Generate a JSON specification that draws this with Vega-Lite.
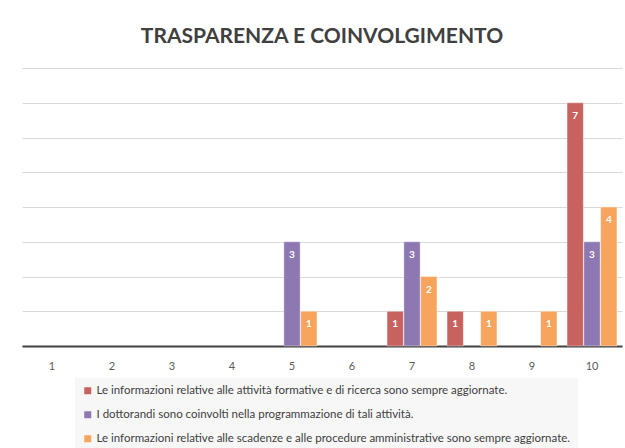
{
  "$schema": "https://vega.github.io/schema/vega-lite/v6.json",
  "width": 600,
  "height": 278,
  "padding": {"left": 22, "top": 26, "right": 3, "bottom": 0},
  "background": "white",
  "title": {
    "text": "TRASPARENZA E COINVOLGIMENTO",
    "font": "Lato",
    "fontSize": 21,
    "fontWeight": "bold",
    "color": "#404040",
    "anchor": "middle",
    "offset": 21
  },
  "data": {
    "values": [
      {"voto": "5", "serie": "I dottorandi sono coinvolti nella programmazione di tali attività.", "n": 3},
      {"voto": "5", "serie": "Le informazioni relative alle scadenze e alle procedure amministrative sono sempre aggiornate.", "n": 1},
      {"voto": "7", "serie": "Le informazioni relative alle attività formative e di ricerca sono sempre aggiornate.", "n": 1},
      {"voto": "7", "serie": "I dottorandi sono coinvolti nella programmazione di tali attività.", "n": 3},
      {"voto": "7", "serie": "Le informazioni relative alle scadenze e alle procedure amministrative sono sempre aggiornate.", "n": 2},
      {"voto": "8", "serie": "Le informazioni relative alle attività formative e di ricerca sono sempre aggiornate.", "n": 1},
      {"voto": "8", "serie": "Le informazioni relative alle scadenze e alle procedure amministrative sono sempre aggiornate.", "n": 1},
      {"voto": "9", "serie": "Le informazioni relative alle scadenze e alle procedure amministrative sono sempre aggiornate.", "n": 1},
      {"voto": "10", "serie": "Le informazioni relative alle attività formative e di ricerca sono sempre aggiornate.", "n": 7},
      {"voto": "10", "serie": "I dottorandi sono coinvolti nella programmazione di tali attività.", "n": 3},
      {"voto": "10", "serie": "Le informazioni relative alle scadenze e alle procedure amministrative sono sempre aggiornate.", "n": 4}
    ]
  },
  "encoding": {
    "x": {
      "field": "voto",
      "type": "nominal",
      "scale": {"domain": ["1","2","3","4","5","6","7","8","9","10"], "paddingInner": 0, "paddingOuter": 0},
      "axis": {
        "title": null,
        "labelAngle": 0,
        "labelFont": "Lato",
        "labelFontSize": 11,
        "labelColor": "#595959",
        "labelPadding": 14,
        "ticks": false,
        "domainColor": "#404040",
        "domainWidth": 2,
        "grid": false
      }
    },
    "xOffset": {
      "field": "serie",
      "type": "nominal",
      "scale": {
        "domain": [
          "Le informazioni relative alle attività formative e di ricerca sono sempre aggiornate.",
          "I dottorandi sono coinvolti nella programmazione di tali attività.",
          "Le informazioni relative alle scadenze e alle procedure amministrative sono sempre aggiornate."
        ],
        "paddingInner": 0.03,
        "paddingOuter": 0.3
      }
    },
    "y": {
      "field": "n",
      "type": "quantitative",
      "scale": {"domain": [0, 8], "nice": false},
      "axis": {
        "title": null,
        "labels": false,
        "ticks": false,
        "domain": false,
        "tickCount": 8,
        "gridColor": "#D9D9D9",
        "gridWidth": 1
      }
    }
  },
  "layer": [
    {
      "mark": {"type": "bar", "stroke": "white", "strokeOpacity": 0.4, "strokeWidth": 1},
      "encoding": {
        "color": {
          "field": "serie",
          "type": "nominal",
          "scale": {
            "domain": [
              "Le informazioni relative alle attività formative e di ricerca sono sempre aggiornate.",
              "I dottorandi sono coinvolti nella programmazione di tali attività.",
              "Le informazioni relative alle scadenze e alle procedure amministrative sono sempre aggiornate."
            ],
            "range": ["#C8625F", "#8D78B2", "#F6A45E"]
          },
          "legend": {
            "title": null,
            "orient": "none",
            "legendX": 53,
            "legendY": 310,
            "direction": "vertical",
            "fillColor": "#F7F7F7",
            "padding": 7,
            "symbolType": "square",
            "symbolSize": 49,
            "symbolStrokeWidth": 0,
            "labelFont": "Lato",
            "labelFontSize": 11.5,
            "labelColor": "#404040",
            "labelLimit": 600,
            "rowPadding": 11,
            "labelOffset": 3
          }
        }
      }
    },
    {
      "mark": {"type": "text", "color": "white", "fontWeight": "bold", "font": "Lato", "fontSize": 10, "baseline": "middle", "dy": 13},
      "encoding": {"text": {"field": "n", "type": "quantitative"}}
    }
  ],
  "config": {"view": {"stroke": null}}
}
